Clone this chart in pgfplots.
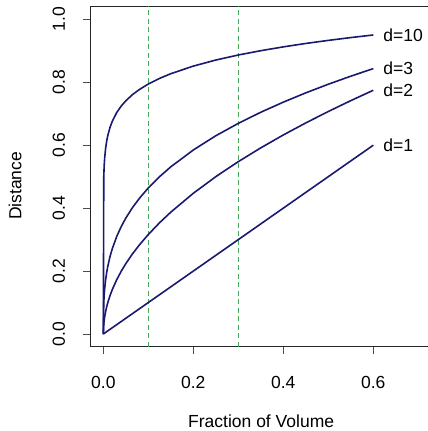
\documentclass[border=0pt]{standalone}
\usepackage{pgfplots}
\pgfplotsset{compat=1.18}
\usepackage{pgfplotstable}
\usepackage{fontspec}
\setmainfont{Liberation Sans}
\definecolor{navyline}{RGB}{25,25,112}
\definecolor{dgreen}{RGB}{70,170,90}
\pgfplotstableread{
r d10 d3 d2
0 0 0 0
0.001 0.5012 0.1000 0.0316
0.002 0.5372 0.1260 0.0447
0.003 0.5594 0.1442 0.0548
0.005 0.5887 0.1710 0.0707
0.0075 0.6131 0.1957 0.0866
0.01 0.6310 0.2154 0.1000
0.015 0.6571 0.2466 0.1225
0.02 0.6762 0.2714 0.1414
0.03 0.7042 0.3107 0.1732
0.04 0.7248 0.3420 0.2000
0.05 0.7411 0.3684 0.2236
0.065 0.7609 0.4021 0.2550
0.08 0.7768 0.4309 0.2828
0.1 0.7943 0.4642 0.3162
0.125 0.8123 0.5000 0.3536
0.15 0.8272 0.5313 0.3873
0.2 0.8513 0.5848 0.4472
0.25 0.8706 0.6300 0.5000
0.3 0.8866 0.6694 0.5477
0.35 0.9003 0.7047 0.5916
0.4 0.9124 0.7368 0.6325
0.45 0.9233 0.7663 0.6708
0.5 0.9330 0.7937 0.7071
0.55 0.9420 0.8193 0.7416
0.6 0.9502 0.8434 0.7746
}\datatab
\begin{document}
\begin{tikzpicture}[x=1pt,y=1pt]
\begin{axis}[
  at={(90pt,84.3pt)}, anchor=south west,
  scale only axis, width=350pt, height=340.7pt,
  xmin=-0.0296, xmax=0.7482, ymin=-0.0403, ymax=1.0423,
  font=\fontsize{17.5}{21}\selectfont,
  /pgf/number format/assume math mode=true,
  axis line style={line width=0.8pt, black!85},
  xtick={0,0.2,0.4,0.6}, xticklabels={0.0,0.2,0.4,0.6},
  ytick={0,0.2,0.4,0.6,0.8,1.0}, yticklabels={0.0,0.2,0.4,0.6,0.8,1.0},
  tick align=outside, major tick length=7pt,
  tick style={line width=0.8pt, black!70},
  xtick pos=bottom, ytick pos=left,
  xticklabel style={anchor=base, yshift=-35pt},
  yticklabel style={rotate=90, anchor=base, yshift=18pt},
  clip=false,
]
\addplot[dgreen, line width=0.9pt, dash pattern=on 5pt off 3.5pt] coordinates {(0.1,-0.0403) (0.1,1.0423)};
\addplot[dgreen, line width=0.9pt, dash pattern=on 5pt off 3.5pt] coordinates {(0.3,-0.0403) (0.3,1.0423)};
\addplot[navyline, line width=1.6pt] coordinates {(0,0) (0.6,0.6)};
\addplot[navyline, line width=1.6pt] table[x=r,y=d2] {\datatab};
\addplot[navyline, line width=1.6pt] table[x=r,y=d3] {\datatab};
\addplot[navyline, line width=1.6pt] table[x=r,y=d10] {\datatab};
\node[anchor=west, inner sep=0pt] at (axis cs:0.622,0.9502) {d=10};
\node[anchor=west, inner sep=0pt] at (axis cs:0.622,0.8434) {d=3};
\node[anchor=west, inner sep=0pt] at (axis cs:0.622,0.7746) {d=2};
\node[anchor=west, inner sep=0pt] at (axis cs:0.622,0.6) {d=1};
\node[anchor=base] at (axis description cs:0.489,-0.236) {Fraction of Volume};
\node[rotate=90, anchor=center] at (axis description cs:-0.214,0.472) {Distance};
\end{axis}
\pgfresetboundingbox
\path (0,0) rectangle (428pt,431pt);
\end{tikzpicture}
\end{document}
